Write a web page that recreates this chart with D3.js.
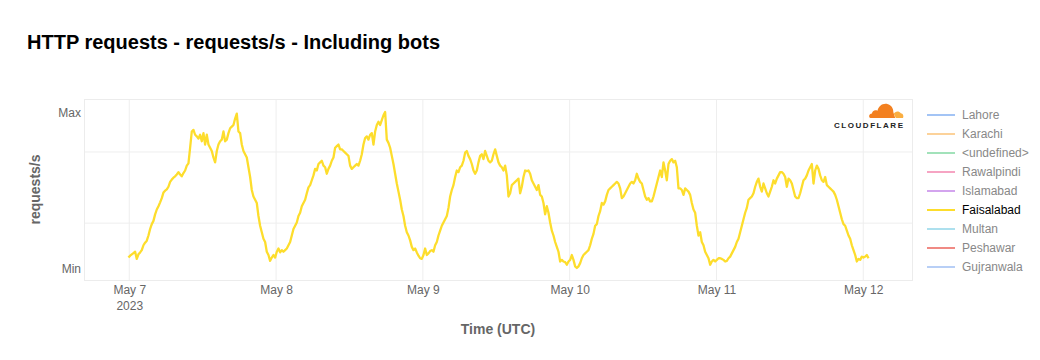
<!DOCTYPE html>
<html>
<head>
<meta charset="utf-8">
<script src="https://cdn.jsdelivr.net/npm/d3@7"></script>
<style>
  html, body { margin: 0; padding: 0; background: #fff; }
  svg { display: block; font-family: "Liberation Sans", Arial, Helvetica, sans-serif; }
</style>
</head>
<body>
<svg id="chart" width="1040" height="360"></svg>
<script>
// ---------------- DATA ----------------
const chartTitle = "HTTP requests - requests/s - Including bots";
const yAxisTitle = "requests/s";
const xAxisTitle = "Time (UTC)";

// legend series (only Faisalabad is visible)
const seriesNames = ["Lahore", "Karachi", "<undefined>", "Rawalpindi", "Islamabad", "Faisalabad", "Multan", "Peshawar", "Gujranwala"];
const seriesColors = ["#a3c4f5", "#fcd29a", "#a2e2ba", "#f6a4c3", "#d3a4ee", "#fddd2c", "#ade0ee", "#f08a84", "#b8cff6"];
const visibleSeries = "Faisalabad";

// x ticks
const xTickDates = ["2023-05-07", "2023-05-08", "2023-05-09", "2023-05-10", "2023-05-11", "2023-05-12"];
const xTickLabels = ["May 7", "May 8", "May 9", "May 10", "May 11", "May 12"];
const xYearLabel = "2023";
const xDomain = ["2023-05-06T16:36:00Z", "2023-05-12T07:58:00Z"];

// y ticks (labels at the series minimum and maximum)
const yTickLabels = ["Min", "Max"];
const yGridValues = [132, 351];

// Faisalabad requests/s (relative units), sampled from start every stepMinutes
const seriesStart = "2023-05-06T23:52:00Z";
const stepMinutes = 16.35;
const faisalabadValues = [
  26,32,36,40,44,22,36,42,49,64,72,78,94,114,129,139,159,174,184,196,209,226,232,236,244,259,266,272,276,282,289,282,276,286,294,309,316,364,414,419,404,399,392,404,384,409,374,404,374,364,354,334,319,354,374,384,389,414,384,389,409,424,429,434,454,469,414,409,374,354,
  344,334,304,274,234,214,204,194,154,124,104,84,74,44,34,16,26,34,26,44,54,42,49,44,49,54,64,74,94,114,124,134,154,164,184,194,204,224,242,249,264,279,299,294,314,319,324,309,304,284,299,309,324,334,364,369,374,359,359,354,349,344,339,309,299,304,309,314,309,324,344,374,
  394,399,389,404,409,374,414,434,444,434,449,464,474,389,379,364,339,314,284,254,229,204,174,154,124,104,94,79,59,49,54,42,32,24,22,34,54,34,39,46,49,44,64,74,94,109,124,134,144,154,179,214,234,249,274,294,289,304,309,324,349,354,339,329,314,294,284,294,319,339,344,329,
  354,339,324,319,324,344,359,339,319,309,304,294,309,279,214,224,249,254,259,264,269,224,244,274,294,292,294,284,264,254,244,234,249,219,214,194,159,184,164,134,109,94,74,59,44,14,19,14,12,4,14,19,34,19,-1,-6,-1,9,24,34,39,44,49,64,84,99,124,129,154,169,194,189,
  199,219,234,239,244,249,254,259,254,239,209,214,224,234,244,254,259,254,264,284,269,259,254,234,214,204,209,199,199,214,234,254,274,294,274,319,294,264,314,324,329,319,324,304,239,239,234,219,239,234,229,219,194,174,164,124,94,104,74,64,44,34,24,4,14,19,14,19,24,24,22,19,
  14,16,24,29,39,49,59,74,84,104,124,144,164,179,204,209,214,224,244,259,269,244,229,254,239,224,214,229,244,264,254,269,279,289,289,284,274,244,269,264,254,234,214,209,209,224,244,264,269,279,294,304,314,254,294,309,299,279,264,259,274,249,244,239,234,229,219,204,184,164,144,129,124,109,94,84,64,49,34,14,22,19,29,26,29,34,24
];

// ---------------- LAYOUT ----------------
const plot = { left: 84, right: 912, top: 99, bottom: 280 };
const minPx = 268, maxPx = 112; // where Min / Max labels sit

const svg = d3.select("#chart");

const t0 = new Date(seriesStart).getTime();
const points = faisalabadValues.map((v, i) => ({ t: new Date(t0 + i * stepMinutes * 60000), v }));

const x = d3.scaleUtc()
  .domain(xDomain.map(d => new Date(d)))
  .range([plot.left, plot.right]);

const vMin = d3.min(faisalabadValues), vMax = d3.max(faisalabadValues);
const unitPerPx = (vMax - vMin) / (minPx - maxPx);
const y = d3.scaleLinear()
  .domain([vMin - (plot.bottom - minPx) * unitPerPx, vMax + (maxPx - plot.top) * unitPerPx])
  .range([plot.bottom, plot.top]);

// title
svg.append("text")
  .attr("x", 27).attr("y", 49)
  .attr("font-size", 20).attr("font-weight", "bold").attr("fill", "#000")
  .text(chartTitle);

// grid
const grid = svg.append("g");
grid.selectAll("line.vx").data(xTickDates).join("line")
  .attr("x1", d => x(new Date(d))).attr("x2", d => x(new Date(d)))
  .attr("y1", plot.top).attr("y2", plot.bottom)
  .attr("stroke", "#eeeeee").attr("stroke-width", 1);
grid.selectAll("line.hy").data(yGridValues).join("line")
  .attr("x1", plot.left).attr("x2", plot.right)
  .attr("y1", d => y(d)).attr("y2", d => y(d))
  .attr("stroke", "#eeeeee").attr("stroke-width", 1);
svg.append("rect")
  .attr("x", plot.left + 0.5).attr("y", plot.top + 0.5)
  .attr("width", plot.right - plot.left).attr("height", plot.bottom - plot.top)
  .attr("fill", "none").attr("stroke", "#ececec");

// x axis
const xAxis = d3.axisBottom(x)
  .tickValues(xTickDates.map(d => new Date(d)))
  .tickFormat((d, i) => xTickLabels[i])
  .tickSize(0).tickPadding(0);
const gx = svg.append("g").attr("transform", `translate(0,${plot.bottom})`).call(xAxis);
gx.select(".domain").remove();
gx.selectAll("text")
  .attr("y", 14).attr("dy", 0)
  .attr("font-size", 12).attr("fill", "#666")
  .attr("font-family", "'Liberation Sans', Arial, sans-serif");
gx.select(".tick text").append("tspan")
  .attr("x", 0).attr("dy", 16).text(xYearLabel);

// y axis
const yAxis = d3.axisLeft(y)
  .tickValues([vMin, vMax])
  .tickFormat((d, i) => yTickLabels[i])
  .tickSize(0).tickPadding(0);
const gy = svg.append("g").attr("transform", `translate(${plot.left - 3},0)`).call(yAxis);
gy.select(".domain").remove();
gy.selectAll("text")
  .attr("x", 0).attr("dy", "0.35em")
  .attr("font-size", 12).attr("fill", "#666")
  .attr("font-family", "'Liberation Sans', Arial, sans-serif");

// axis titles
svg.append("text")
  .attr("transform", `translate(40,${(plot.top + plot.bottom) / 2}) rotate(-90)`)
  .attr("text-anchor", "middle")
  .attr("font-size", 14).attr("font-weight", "bold").attr("fill", "#666")
  .text(yAxisTitle);
svg.append("text")
  .attr("x", (plot.left + plot.right) / 2).attr("y", 334)
  .attr("text-anchor", "middle")
  .attr("font-size", 14).attr("font-weight", "bold").attr("fill", "#666")
  .text(xAxisTitle);

// line
const line = d3.line().x(d => x(d.t)).y(d => y(d.v));
svg.append("path")
  .datum(points)
  .attr("d", line)
  .attr("fill", "none")
  .attr("stroke", seriesColors[seriesNames.indexOf(visibleSeries)])
  .attr("stroke-width", 2.3)
  .attr("stroke-linejoin", "round");

// cloudflare logo
const logo = svg.append("g").attr("transform", "translate(869,103)");
logo.append("path")
  .attr("d", "M1.5,15 C-0.5,15 -0.5,10.5 3,10.5 C3,8 6,6.5 8.5,7.8 C9.5,2.5 14.5,-0.5 19,1.2 C22.5,2.5 24.5,5.5 24.3,9 L26.2,15 Z")
  .attr("fill", "#f38020");
logo.append("path")
  .attr("d", "M26.8,15 L24.8,10.8 C25.8,8 30,7.4 31.8,10.2 C34,10.4 35,13 34,15 Z")
  .attr("fill", "#faae40");
svg.append("text")
  .attr("x", 834).attr("y", 127.5)
  .attr("font-size", 8).attr("font-weight", "bold").attr("fill", "#222")
  .attr("textLength", 69).attr("lengthAdjust", "spacing")
  .text("CLOUDFLARE");

// legend
const legend = svg.append("g");
const rows = legend.selectAll("g").data(seriesNames).join("g")
  .attr("transform", (d, i) => `translate(927,${115 + i * 19})`);
rows.append("line")
  .attr("x1", 0).attr("x2", 28).attr("y1", 0).attr("y2", 0)
  .attr("stroke", (d, i) => seriesColors[i]).attr("stroke-width", 2);
rows.append("text")
  .attr("x", 35).attr("y", 0).attr("dy", "0.35em")
  .attr("font-size", 12)
  .attr("fill", d => d === visibleSeries ? "#000" : "#888")
  .text(d => d);
</script>
</body>
</html>
